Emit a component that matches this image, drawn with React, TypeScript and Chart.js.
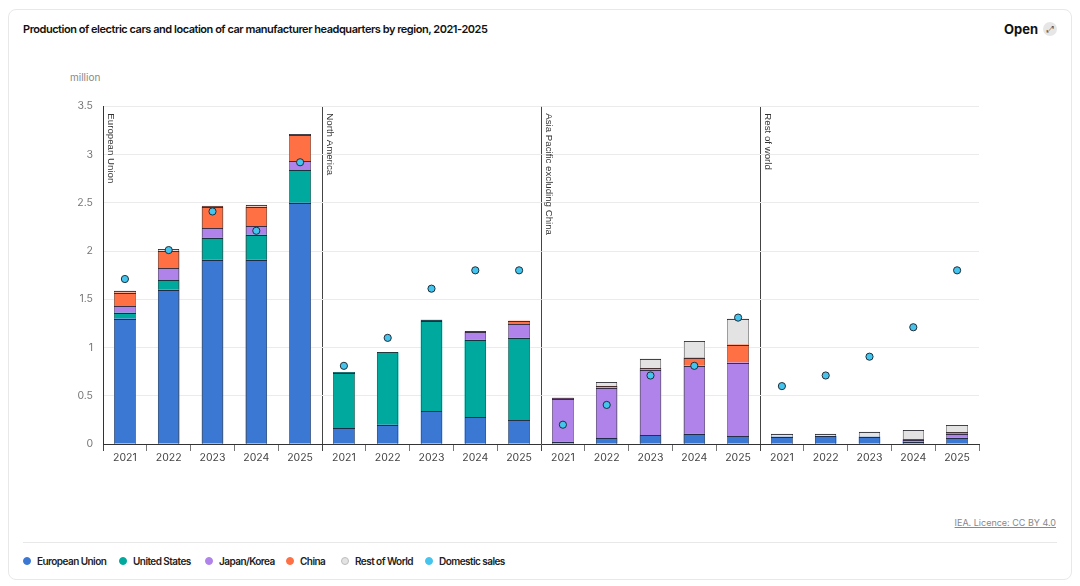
import React, { useEffect, useRef } from "react";
import { Chart, registerables } from "chart.js";

Chart.register(...registerables);

const regions = ["European Union", "North America", "Asia Pacific excluding China", "Rest of world"];
const years = ["2021", "2022", "2023", "2024", "2025"];

// Production by HQ location, million (per region × year)
const europeanUnion = [1.3, 1.6, 1.91, 1.91, 2.5, 0.165, 0.2, 0.34, 0.28, 0.245, 0.024, 0.062, 0.09, 0.107, 0.08, 0.076, 0.083, 0.076, 0.024, 0.066];
const unitedStates = [0.06, 0.1, 0.23, 0.26, 0.34, 0.575, 0.75, 0.937, 0.8, 0.855, 0, 0, 0, 0, 0, 0, 0, 0, 0, 0];
const japanKorea = [0.07, 0.12, 0.095, 0.09, 0.09, 0.005, 0, 0.005, 0.077, 0.14, 0.446, 0.523, 0.68, 0.706, 0.764, 0, 0, 0, 0.02, 0.038];
const china = [0.14, 0.18, 0.225, 0.2, 0.27, 0, 0, 0.005, 0.01, 0.037, 0.01, 0.015, 0.015, 0.083, 0.186, 0, 0, 0, 0.004, 0.016];
const restOfWorld = [0.02, 0.02, 0.01, 0.02, 0.01, 0, 0, 0, 0, 0, 0, 0.04, 0.1, 0.17, 0.27, 0.031, 0.024, 0.052, 0.097, 0.077];
const domesticSales = [1.71, 2.01, 2.41, 2.21, 2.92, 0.81, 1.1, 1.61, 1.8, 1.8, 0.2, 0.405, 0.71, 0.81, 1.31, 0.6, 0.71, 0.905, 1.21, 1.8];

const yTicks = [0, 0.5, 1, 1.5, 2, 2.5, 3, 3.5];

const COLORS = {
  eu: "#3b78d4",
  us: "#00a99d",
  jk: "#b083ea",
  cn: "#ff7045",
  row: "#e3e3e3",
  sales: "#45c4ee",
};

const labels: string[] = [];
regions.forEach(() => years.forEach((y) => labels.push(y)));

const FONT = "Inter, 'Noto Sans', Arial, sans-serif";

const regionLabelPlugin = {
  id: "regionLabels",
  afterDatasetsDraw(chart: any) {
    const { ctx, chartArea, scales } = chart;
    const x = scales.x;
    ctx.save();
    ctx.font = "9.7px 'Liberation Sans', Arial, sans-serif";
    ctx.fillStyle = "#333";
    ctx.textBaseline = "bottom";
    ctx.textAlign = "left";
    regions.forEach((r, i) => {
      const idx = i * years.length;
      const half = (x.getPixelForValue(1) - x.getPixelForValue(0)) / 2;
      const px = x.getPixelForValue(idx) - half;
      ctx.save();
      ctx.translate(px + 2.5, chartArea.top + 7);
      ctx.rotate(Math.PI / 2);
      ctx.fillText(r, 0, 0);
      ctx.restore();
    });
    ctx.restore();
  },
};

// crisp outlines for the stacked bar segments, taken from the library's bar elements
const barOutlinePlugin = {
  id: "barOutline",
  afterDatasetDraw(chart: any, args: any) {
    const meta = args.meta;
    if (meta.type !== "bar") return;
    const values = chart.data.datasets[args.index].data as number[];
    const ctx = chart.ctx;
    ctx.save();
    ctx.lineWidth = 1;
    meta.data.forEach((el: any, i: number) => {
      if (!values[i]) return;
      const p = el.getProps(["x", "y", "base", "width"], true);
      const L = Math.round(p.x - p.width / 2);
      const R = Math.round(p.x + p.width / 2);
      const T = Math.round(Math.min(p.y, p.base));
      const B = Math.round(Math.max(p.y, p.base));
      ctx.strokeStyle = "rgba(60,60,60,0.45)";
      ctx.beginPath();
      ctx.moveTo(L + 0.5, T);
      ctx.lineTo(L + 0.5, B);
      ctx.moveTo(R - 0.5, T);
      ctx.lineTo(R - 0.5, B);
      ctx.stroke();
      ctx.strokeStyle = "rgba(25,25,35,0.8)";
      ctx.beginPath();
      ctx.moveTo(L, T + 0.5);
      ctx.lineTo(R, T + 0.5);
      ctx.stroke();
    });
    ctx.restore();
  },
};

function ChartCanvas() {
  const ref = useRef<HTMLCanvasElement | null>(null);
  useEffect(() => {
    if (!ref.current) return;
    const mkBar = (label: string, data: number[], color: string) => ({
      type: "bar" as const,
      label,
      data,
      backgroundColor: color,
      borderWidth: 0,
      stack: "prod",
      order: 1,
      barPercentage: 0.49,
      categoryPercentage: 1,
    });
    const chart = new Chart(ref.current, {
      type: "bar",
      data: {
        labels,
        datasets: [
          mkBar("European Union", europeanUnion, COLORS.eu),
          mkBar("United States", unitedStates, COLORS.us),
          mkBar("Japan/Korea", japanKorea, COLORS.jk),
          mkBar("China", china, COLORS.cn),
          mkBar("Rest of World", restOfWorld, COLORS.row),
          {
            type: "line" as const,
            label: "Domestic sales",
            data: domesticSales,
            showLine: false,
            pointRadius: 3.6,
            pointBackgroundColor: COLORS.sales,
            pointBorderColor: "#1f2f3a",
            pointBorderWidth: 1,
            backgroundColor: COLORS.sales,
            borderColor: "#1f2f3a",
            stack: "sales",
            order: 0,
          } as any,
        ],
      },
      options: {
        animation: false,
        responsive: false,
        maintainAspectRatio: false,
        layout: { padding: { left: 0, right: 90, top: 5, bottom: 0 } },
        plugins: { legend: { display: false }, tooltip: { enabled: false } },
        scales: {
          x: {
            stacked: true,
            offset: true,
            grid: {
              offset: true,
              drawOnChartArea: true,
              color: (c: any) => (c.index % 5 === 0 && c.index > 0 && c.index < 20 ? "#444" : "transparent"),
              tickColor: (c: any) => (c.index % 5 === 0 ? "#444" : "#777"),
              tickLength: 7,
              lineWidth: 1,
            },
            border: { color: "#333", width: 1 },
            ticks: {
              color: "#444",
              font: { family: FONT, size: 10.5 },
              padding: 1,
              maxRotation: 0,
              autoSkip: false,
            },
            afterFit: (s: any) => {
              s.height = 31;
            },
          },
          y: {
            stacked: true,
            min: 0,
            max: 3.5,
            afterBuildTicks: (s: any) => {
              s.ticks = yTicks.map((v) => ({ value: v }));
            },
            grid: { color: "#ebebeb", drawTicks: false, lineWidth: 1 },
            border: { color: "#333", width: 1 },
            ticks: {
              color: "#777",
              font: { family: FONT, size: 10.5 },
              padding: 10,
              callback: (v: any) => String(v),
            },
            afterFit: (s: any) => {
              s.width = 94;
            },
          },
        },
      },
      plugins: [barOutlinePlugin, regionLabelPlugin],
    });
    return () => chart.destroy();
  }, []);
  return <canvas ref={ref} width={1060} height={385} style={{ position: "absolute", left: 0, top: 80, width: 1060, height: 385 }} />;
}

const legendItems = [
  { label: "European Union", color: COLORS.eu, border: COLORS.eu, left: 14 },
  { label: "United States", color: COLORS.us, border: COLORS.us, left: 110 },
  { label: "Japan/Korea", color: COLORS.jk, border: COLORS.jk, left: 196 },
  { label: "China", color: COLORS.cn, border: COLORS.cn, left: 277 },
  { label: "Rest of World", color: COLORS.row, border: "#bdbdbd", left: 332 },
  { label: "Domestic sales", color: COLORS.sales, border: COLORS.sales, left: 416 },
];

export default function App() {
  return (
    <div
      style={{
        position: "relative",
        width: 1064,
        height: 571,
        marginTop: 1,
        border: "1px solid #e8e8e8",
        borderRadius: 8,
        boxSizing: "border-box",
        fontFamily: FONT,
        background: "#fff",
      }}
    >
      <div style={{ position: "absolute", left: 14, top: 11, fontSize: 11, fontWeight: 600, color: "#111", lineHeight: "16px", whiteSpace: "nowrap", letterSpacing: "-0.47px" }}>
        Production of electric cars and location of car manufacturer headquarters by region, 2021-2025
      </div>
      <div style={{ position: "absolute", right: 14, top: 10, display: "flex", alignItems: "center", gap: 5, fontSize: 13, fontWeight: 700, color: "#111", lineHeight: "18px" }}>
        <span>Open</span>
        <span style={{ width: 14, height: 14, borderRadius: 7, background: "#e6e6e6", display: "inline-flex", alignItems: "center", justifyContent: "center", fontSize: 9, color: "#555", fontWeight: 400 }}>⤢</span>
      </div>
      <div style={{ position: "absolute", left: 61, top: 61, fontSize: 10, color: "#888", lineHeight: "12px" }}>million</div>
      <ChartCanvas />
      <div style={{ position: "absolute", right: 15, top: 507, fontSize: 9, color: "#888", textDecoration: "underline", lineHeight: "12px" }}>IEA. Licence: CC BY 4.0</div>
      <div style={{ position: "absolute", left: 14, top: 532, width: 1034, height: 1, background: "#e8e8e8" }} />
      {legendItems.map((it) => (
        <div
          key={it.label}
          style={{ position: "absolute", left: it.left, top: 544, display: "flex", alignItems: "center", fontSize: 10, fontWeight: 600, color: "#222", lineHeight: "14px", whiteSpace: "nowrap", letterSpacing: "-0.55px" }}
        >
          <span style={{ width: 6, height: 6, borderRadius: 4, background: it.color, border: `1px solid ${it.border}`, marginRight: 6 }} />
          <span>{it.label}</span>
        </div>
      ))}
    </div>
  );
}
